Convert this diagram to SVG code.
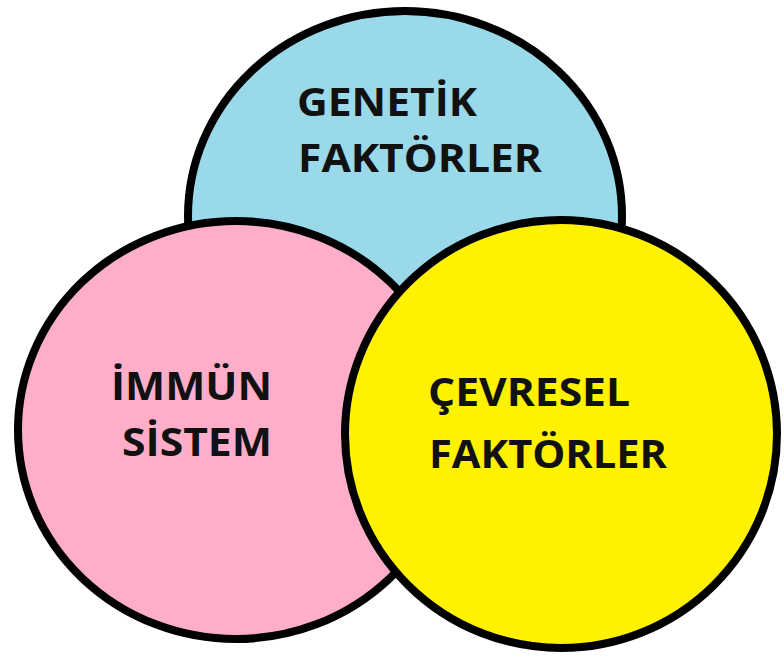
<svg xmlns="http://www.w3.org/2000/svg" width="784" height="662" viewBox="0 0 784 662">
<style>
.c{stroke:#000;stroke-width:8}
.t{font-family:"Open Sans","Noto Sans",sans-serif;font-weight:bold;font-size:40px;fill:#111}
</style>
<rect width="784" height="662" fill="#fff"/>
<g id="genetik">
<ellipse class="c" cx="405" cy="216" rx="217" ry="205" fill="#99D9EA"/>
<text class="t" x="297" y="116" textLength="180" lengthAdjust="spacingAndGlyphs">GENETİK</text>
<text class="t" x="298" y="172" textLength="244" lengthAdjust="spacingAndGlyphs">FAKTÖRLER</text>
</g>
<g id="immun">
<ellipse class="c" cx="236" cy="430" rx="218" ry="209" fill="#FFAEC9"/>
<text class="t" x="111" y="400" textLength="161" lengthAdjust="spacingAndGlyphs">İMMÜN</text>
<text class="t" x="122" y="456" textLength="150" lengthAdjust="spacingAndGlyphs">SİSTEM</text>
</g>
<g id="cevresel">
<ellipse class="c" cx="561" cy="434" rx="216" ry="214" fill="#FFF200"/>
<text class="t" x="428" y="406" textLength="202" lengthAdjust="spacingAndGlyphs">ÇEVRESEL</text>
<text class="t" x="429" y="468" textLength="238" lengthAdjust="spacingAndGlyphs">FAKTÖRLER</text>
</g>
</svg>
